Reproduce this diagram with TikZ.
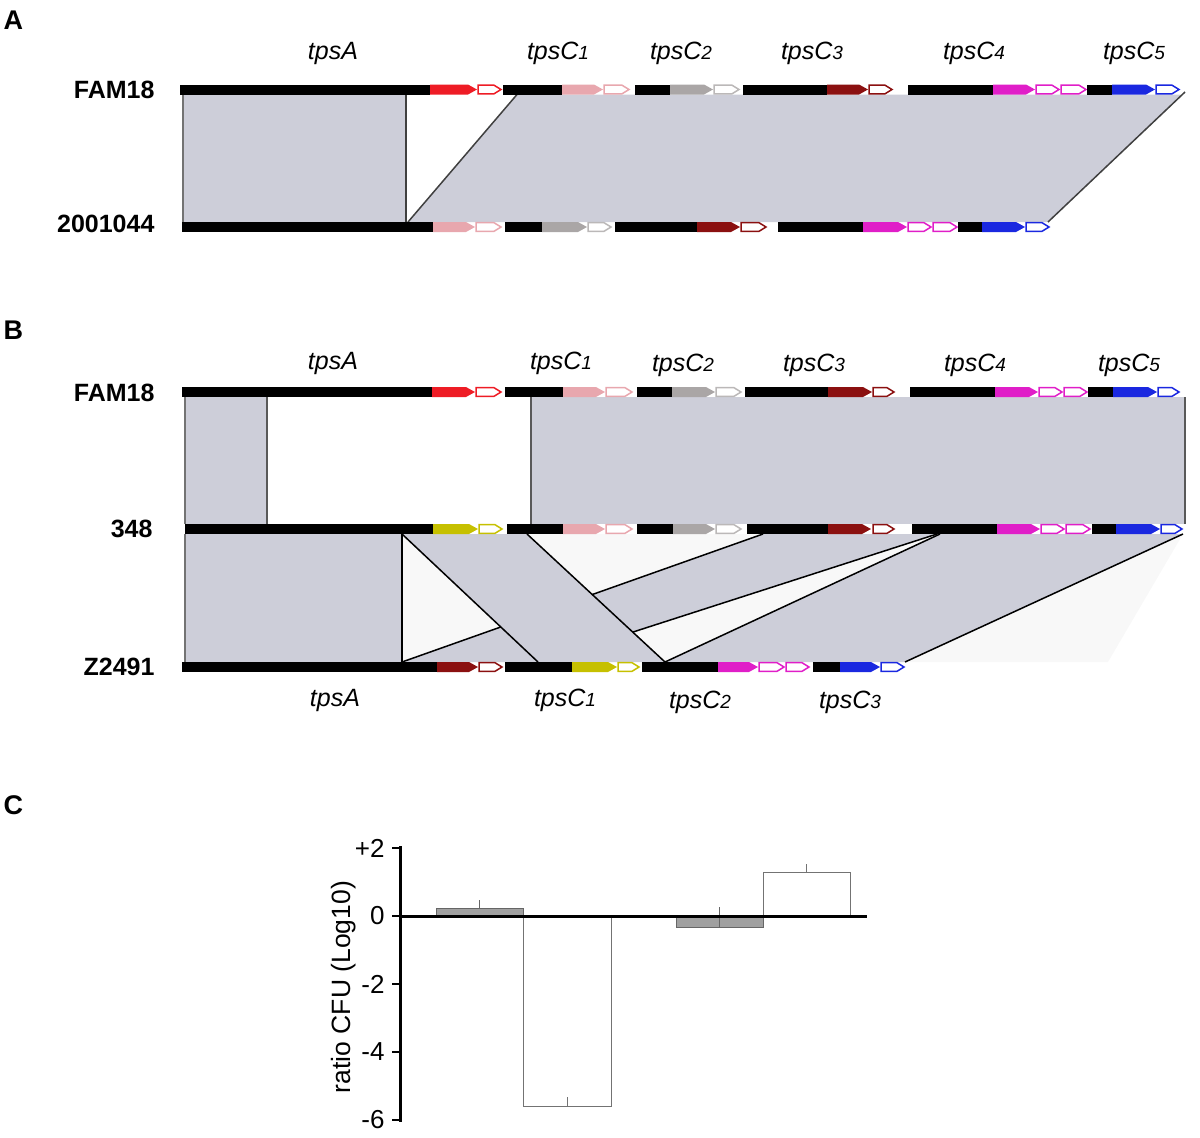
\documentclass[tikz,border=0pt]{standalone}
\usepackage{fontspec}
\setmainfont{Liberation Sans}
\definecolor{band}{HTML}{CDCED9}
\definecolor{faint}{HTML}{F8F8F8}
\definecolor{gred}{HTML}{EE1C25}
\definecolor{gpink}{HTML}{E8A7AE}
\definecolor{ggrey}{HTML}{AAA6A6}
\definecolor{gdred}{HTML}{8B1010}
\definecolor{gmag}{HTML}{E01EC8}
\definecolor{gblue}{HTML}{1A28E0}
\definecolor{gyel}{HTML}{C6C000}
\definecolor{bargrey}{HTML}{A0A0A0}
\newcommand\gbk[3]{\fill[black] (#1,#3-5) rectangle (#2,#3+5);}
\newcommand\gar[4]{\fill[#4] (#1,#3-5) -- (#2-9,#3-5) -- (#2,#3) -- (#2-9,#3+5) -- (#1,#3+5) -- cycle;}
\newcommand\gop[4]{\draw[#4, line width=1.5, fill=white] (#1+1,#3-4.3) -- (#2-8,#3-4.3) -- (#2-1,#3) -- (#2-8,#3+4.3) -- (#1+1,#3+4.3) -- cycle;}
\newcommand\tpc[1]{\textit{tpsC}{\fontsize{19}{20}\selectfont\itshape #1}}
\tikzset{
  strain/.style={anchor=east, font=\fontsize{25}{28}\selectfont\bfseries},
  panel/.style={anchor=west, font=\fontsize{27}{30}\selectfont\bfseries},
  gene/.style={anchor=base, font=\fontsize{25}{28}\selectfont\itshape},
  edgeA/.style={draw=black!75, line width=1.5},
  edgeB/.style={draw=black, line width=1.5},
  ticklab/.style={anchor=east, font=\fontsize{26}{29}\selectfont},
}
\begin{document}
\begin{tikzpicture}[x=1pt,y=-1pt]
\useasboundingbox (0,0) rectangle (1200,1138);
% ================= Panel A =================
\node[panel] (pA) at (0,20) {A};
\node[strain] (a1) at (158,90) {FAM18};
\node[strain] (a2) at (158,224) {2001044};
\node[gene] (la1) at (333,59) {tpsA};
\node[gene] (la2) at (558,59) {\tpc{1}};
\node[gene] (la3) at (681,59) {\tpc{2}};
\node[gene] (la4) at (812,59) {\tpc{3}};
\node[gene] (la5) at (974,59) {\tpc{4}};
\node[gene] (la6) at (1134,59) {\tpc{5}};
% bands
\fill[band] (183,94.5) rectangle (406,222);
\draw[edgeA, draw=black!55] (183,94.5) -- (183,222);
\draw[edgeA] (406,94.5) -- (406,222);
\fill[band] (517,94.5) -- (1183,94.5) -- (1048,222) -- (408,222) -- cycle;
\draw[edgeA] (408,222) -- (517,94.5);
\draw[edgeA] (1048,222) -- (1185,92);
% FAM18 row
\gbk{180}{430}{89.5}\gar{430}{477}{89.5}{gred}\gop{477}{502}{89.5}{gred}
\gbk{503}{562}{89.5}\gar{562}{603}{89.5}{gpink}\gop{603}{630}{89.5}{gpink}
\gbk{635}{670}{89.5}\gar{670}{713}{89.5}{ggrey}\gop{713}{740}{89.5}{ggrey!80}
\gbk{743}{827}{89.5}\gar{827}{868}{89.5}{gdred}\gop{868}{893}{89.5}{gdred}
\gbk{908}{993}{89.5}\gar{993}{1035}{89.5}{gmag}\gop{1035}{1060}{89.5}{gmag}\gop{1060}{1087}{89.5}{gmag}
\gbk{1087}{1112}{89.5}\gar{1112}{1155}{89.5}{gblue}\gop{1155}{1180}{89.5}{gblue}
% 2001044 row
\gbk{182}{433}{227}\gar{433}{475}{227}{gpink}\gop{475}{502}{227}{gpink}
\gbk{505}{542}{227}\gar{542}{587}{227}{ggrey}\gop{587}{612}{227}{ggrey!80}
\gbk{615}{697}{227}\gar{697}{740}{227}{gdred}\gop{740}{767}{227}{gdred}
\gbk{778}{863}{227}\gar{863}{907}{227}{gmag}\gop{907}{932}{227}{gmag}\gop{932}{958}{227}{gmag}
\gbk{958}{982}{227}\gar{982}{1025}{227}{gblue}\gop{1025}{1050}{227}{gblue}
% ================= Panel B =================
\node[panel] (pB) at (0,330) {B};
\node[strain] (b1) at (158,393) {FAM18};
\node[strain] (b2) at (156,529) {348};
\node[strain] (b3) at (158,667) {Z2491};
\node[gene] (lb1) at (333,369) {tpsA};
\node[gene] (lb2) at (561,369) {\tpc{1}};
\node[gene] (lb3) at (683,371) {\tpc{2}};
\node[gene] (lb4) at (814,371) {\tpc{3}};
\node[gene] (lb5) at (975,371) {\tpc{4}};
\node[gene] (lb6) at (1129,371) {\tpc{5}};
\node[gene] (lc1) at (335,706) {tpsA};
\node[gene] (lc2) at (565,706) {\tpc{1}};
\node[gene] (lc3) at (700,708) {\tpc{2}};
\node[gene] (lc4) at (850,708) {\tpc{3}};
% upper bands
\fill[band] (185,397) rectangle (267,524);
\draw[edgeA, draw=black!55] (185,397) -- (185,524);
\draw[edgeA, draw=black!65] (267,397) -- (267,524);
\fill[band] (531,397) rectangle (1185,524);
\draw[edgeA, draw=black!65] (531,397) -- (531,524);
\draw[edgeA, draw=black!65] (1185,397) -- (1185,524);
% lower bands
\fill[faint] (402,534) -- (1183,534) -- (1108,662) -- (402,662) -- cycle;
\fill[band] (185,534) rectangle (402,662);
\draw[edgeA, draw=black!55] (185,534) -- (185,662);
\fill[band] (763,534) -- (937,534) -- (540,662) -- (402,662) -- cycle;
\draw[edgeB] (402,662) -- (763,534);
\draw[edgeB] (540,662) -- (937,534);
\fill[band] (940,534) -- (1183,534) -- (905,662) -- (665,662) -- cycle;
\draw[edgeB] (665,662) -- (940,534);
\draw[edgeB] (905,662) -- (1183,534);
\fill[band] (402,534) -- (527,534) -- (665,662) -- (538,662) -- cycle;
\draw[edgeB] (402,534) -- (538,662);
\draw[edgeB] (527,534) -- (665,662);
\draw[edgeB] (402,534) -- (402,662);
% FAM18 row
\gbk{182}{432}{392}\gar{432}{475}{392}{gred}\gop{475}{502}{392}{gred}
\gbk{505}{563}{392}\gar{563}{605}{392}{gpink}\gop{605}{633}{392}{gpink}
\gbk{637}{672}{392}\gar{672}{715}{392}{ggrey}\gop{715}{742}{392}{ggrey!80}
\gbk{745}{828}{392}\gar{828}{872}{392}{gdred}\gop{872}{895}{392}{gdred}
\gbk{910}{995}{392}\gar{995}{1038}{392}{gmag}\gop{1038}{1063}{392}{gmag}\gop{1063}{1088}{392}{gmag}
\gbk{1088}{1113}{392}\gar{1113}{1157}{392}{gblue}\gop{1157}{1180}{392}{gblue}
% 348 row
\gbk{185}{433}{529}\gar{433}{478}{529}{gyel}\gop{478}{503}{529}{gyel}
\gbk{507}{563}{529}\gar{563}{605}{529}{gpink}\gop{605}{633}{529}{gpink}
\gbk{637}{673}{529}\gar{673}{715}{529}{ggrey}\gop{715}{742}{529}{ggrey!80}
\gbk{747}{828}{529}\gar{828}{871}{529}{gdred}\gop{872}{895}{529}{gdred}
\gbk{912}{997}{529}\gar{997}{1040}{529}{gmag}\gop{1040}{1065}{529}{gmag}\gop{1065}{1091}{529}{gmag}
\gbk{1092}{1116}{529}\gar{1116}{1160}{529}{gblue}\gop{1160}{1183}{529}{gblue}
% Z2491 row
\gbk{182}{437}{667}\gar{437}{478}{667}{gdred}\gop{478}{503}{667}{gdred}
\gbk{505}{572}{667}\gar{572}{617}{667}{gyel}\gop{617}{640}{667}{gyel}
\gbk{642}{718}{667}\gar{718}{758}{667}{gmag}\gop{758}{785}{667}{gmag}\gop{785}{810}{667}{gmag}
\gbk{813}{840}{667}\gar{840}{880}{667}{gblue}\gop{880}{905}{667}{gblue}
% ================= Panel C =================
\node[panel] (pC) at (0,805) {C};
% bars
\filldraw[fill=bargrey, draw=black!60, line width=1] (436,916) rectangle (523,908);
\draw[black!60, line width=1] (479,908) -- (479,900);
\filldraw[fill=white, draw=black!55, line width=1] (523,916) rectangle (611,1106);
\draw[black!55, line width=1] (567,1106) -- (567,1097);
\filldraw[fill=bargrey, draw=black!60, line width=1] (676,916) rectangle (763,927);
\draw[black!60, line width=1] (719,927) -- (719,907);
\filldraw[fill=white, draw=black!55, line width=1] (763,916) rectangle (850,872);
\draw[black!55, line width=1] (806,872) -- (806,864);
% axes
\draw[black, line width=3] (399,916) -- (867,916);
\draw[black, line width=3] (400,846) -- (400,1122);
\foreach \yy/\lab in {848/+2, 916/0, 984/-2, 1052/-4, 1120/-6}{
  \draw[black, line width=2.5] (392,\yy) -- (400,\yy);
  \node[ticklab] at (388,\yy) {\lab};
}
\node[font=\fontsize{26.5}{29}\selectfont, rotate=90] (ylab) at (344,987) {ratio CFU (Log10)};
\end{tikzpicture}
\end{document}
